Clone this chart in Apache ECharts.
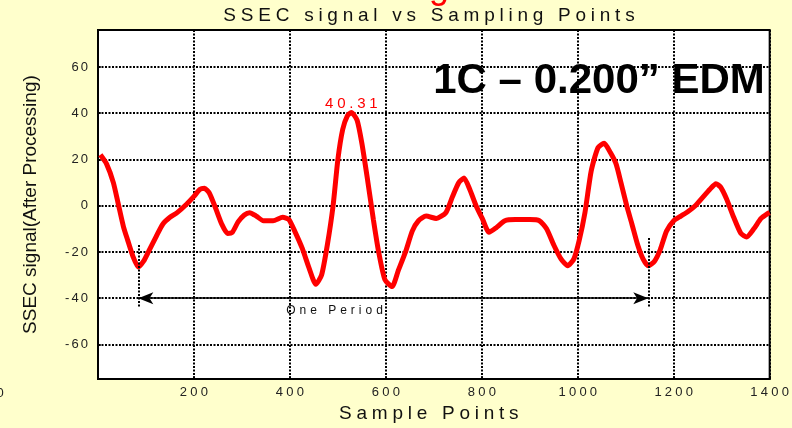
<!DOCTYPE html>
<html>
<head>
<meta charset="utf-8">
<script src="https://cdn.jsdelivr.net/npm/echarts@6/dist/echarts.min.js"></script>
<style>
  html, body { margin: 0; padding: 0; background: #ffffcc; }
  #chart { width: 792px; height: 428px; }
</style>
</head>
<body>
<div id="chart"></div>
<script>
// sample point positions and processed SSEC signal
const sampleX = [5, 18, 32, 42, 53, 62, 73, 84, 95, 105, 122, 135, 150, 165, 184, 200, 212, 222, 232, 245,
  258, 270, 280, 292, 305, 316, 330, 345, 365, 385, 398, 410, 426, 440, 454, 466, 478, 490, 500, 510,
  520, 528, 540, 550, 562, 574, 585, 598, 613, 626, 641, 655, 668, 684, 705, 725, 739, 752, 763, 775,
  788, 802, 815, 830, 848, 870, 900, 920, 935, 950, 965, 979, 992, 1003, 1015, 1028, 1042, 1055, 1068, 1080,
  1090, 1102, 1113, 1125, 1136, 1147, 1160, 1172, 1185, 1200, 1215, 1230, 1245, 1260, 1275, 1288, 1298, 1310, 1325, 1340,
  1352, 1367, 1382, 1395, 1400]
const signal = [22, 18, 10, 1, -9, -15, -22, -26.5, -24, -20, -13, -8, -5, -3, 0.5, 4, 7, 7.5, 5.5, -1,
  -8, -12, -11.5, -7, -4, -3, -4.5, -6.5, -6.5, -5, -6, -11, -18.6, -27, -34, -30, -17, 0, 20, 33,
  39, 40.31, 37, 27, 11, -6, -20, -32, -35, -28, -20, -11, -6.5, -4.5, -5.5, -3, 4, 10, 12, 7,
  0, -6, -11.5, -9.5, -6.5, -6, -6, -6.5, -10, -17, -23, -26, -23, -15, -3, 15, 25, 27, 23, 18,
  10, 0, -8, -17, -23, -26, -24, -19, -11, -6.5, -4.5, -2.5, 0, 3.5, 7, 9.5, 8, 3, -5, -12,
  -13.5, -10, -5.5, -3.5, -3]

const xTicks = [200, 400, 600, 800, 1000, 1200, 1400]
const yTicks = [-60, -40, -20, 0, 20, 40, 60]

// one period marked between two minima
const periodStart = 84
const periodEnd = 1147
const peakX = 528
const peakValue = 40.31

const FONT = '"Liberation Sans", Arial, sans-serif'
const spaced = (s, sep) => String(s).split('').join(sep)

const chart = echarts.init(document.getElementById('chart'))

const dotted = { color: '#000', width: 2, type: [2, 1.5] }

const option = {
  backgroundColor: '#ffffcc',
  animation: false,
  grid: {
    left: 98,
    right: 21,
    top: 30,
    bottom: 47,
    show: true,
    backgroundColor: '#fff',
    borderColor: '#000',
    borderWidth: 2
  },
  xAxis: {
    type: 'value',
    min: 0,
    max: 1400,
    name: spaced('Sample Points', '\u2005'),
    nameLocation: 'middle',
    nameGap: 23,
    nameTextStyle: { fontFamily: FONT, fontSize: 19, color: '#111', padding: [0, 10, 0, 0] },
    axisLine: { show: true, onZero: false, lineStyle: { color: '#000', width: 2 } },
    axisTick: { show: true, inside: true, length: 3, customValues: xTicks, lineStyle: { color: '#000', width: 1.5 } },
    axisLabel: {
      customValues: xTicks,
      margin: 7,
      fontFamily: FONT,
      fontSize: 13,
      color: '#222',
      formatter: v => spaced(v, '\u2005')
    },
    splitLine: { show: true, lineStyle: dotted }
  },
  yAxis: {
    type: 'value',
    min: -75,
    max: 76,
    name: 'SSEC signal(After Processing)',
    nameLocation: 'middle',
    nameGap: 58,
    nameTextStyle: { fontFamily: FONT, fontSize: 19, color: '#111' },
    axisLine: { show: true, onZero: false, lineStyle: { color: '#000', width: 2 } },
    axisTick: { show: true, inside: true, length: 3, customValues: yTicks, lineStyle: { color: '#000', width: 1.5 } },
    axisLabel: {
      customValues: yTicks,
      margin: 10,
      fontFamily: FONT,
      fontSize: 13,
      color: '#222',
      formatter: v => spaced(v, '\u2006')
    },
    splitLine: { show: true, lineStyle: dotted }
  },
  graphic: [
    {
      type: 'text',
      x: 429, y: 16,
      style: {
        text: spaced('SSEC signal vs Sampling Points', '\u2005'),
        font: '19px ' + FONT,
        fill: '#111',
        align: 'center',
        verticalAlign: 'middle'
      }
    },
    {
      type: 'text',
      x: 439, y: -12,
      style: { text: 'g', font: '36px ' + FONT, fill: '#ff0000', align: 'center', verticalAlign: 'middle' }
    },
    {
      type: 'text',
      x: 0, y: 393,
      style: { text: '0', font: '13px ' + FONT, fill: '#222', align: 'center', verticalAlign: 'middle' }
    },
    {
      type: 'text',
      x: 599, y: 81,
      z: 100,
      style: {
        text: '1C \u2013 0.200\u201D EDM',
        font: 'bold 42px ' + FONT,
        fill: '#000',
        align: 'center',
        verticalAlign: 'middle'
      }
    }
  ],
  series: [
    {
      type: 'line',
      data: sampleX.map((x, i) => [x, signal[i]]),
      smooth: 0.2,
      showSymbol: false,
      lineStyle: { color: '#ff0000', width: 5 },
      markPoint: {
        symbol: 'circle',
        symbolSize: 0,
        silent: true,
        data: [
          {
            coord: [peakX, peakValue],
            label: {
              show: true,
              position: 'top',
              distance: 1,
              formatter: spaced(peakValue, '\u2005'),
              fontFamily: FONT,
              fontSize: 15,
              color: '#ff0000'
            }
          },
          {
            coord: [493, -45.6],
            label: {
              show: true,
              position: 'inside',
              formatter: spaced('One Period', '\u2004'),
              fontFamily: FONT,
              fontSize: 12,
              color: '#111'
            }
          }
        ]
      },
      markLine: {
        silent: true,
        label: { show: false },
        symbol: ['arrow', 'arrow'],
        symbolSize: [9, 15],
        lineStyle: { color: '#000', width: 1.5, type: 'solid' },
        data: [
          [{ coord: [periodStart, -40] }, { coord: [periodEnd, -40] }],
          [
            { coord: [periodStart, -17], symbol: 'none', lineStyle: { type: [2, 1.5], width: 2 } },
            { coord: [periodStart, -44], symbol: 'none' }
          ],
          [
            { coord: [periodEnd, -14], symbol: 'none', lineStyle: { type: [2, 1.5], width: 2 } },
            { coord: [periodEnd, -44], symbol: 'none' }
          ]
        ]
      }
    }
  ]
}

chart.setOption(option)
</script>
</body>
</html>
